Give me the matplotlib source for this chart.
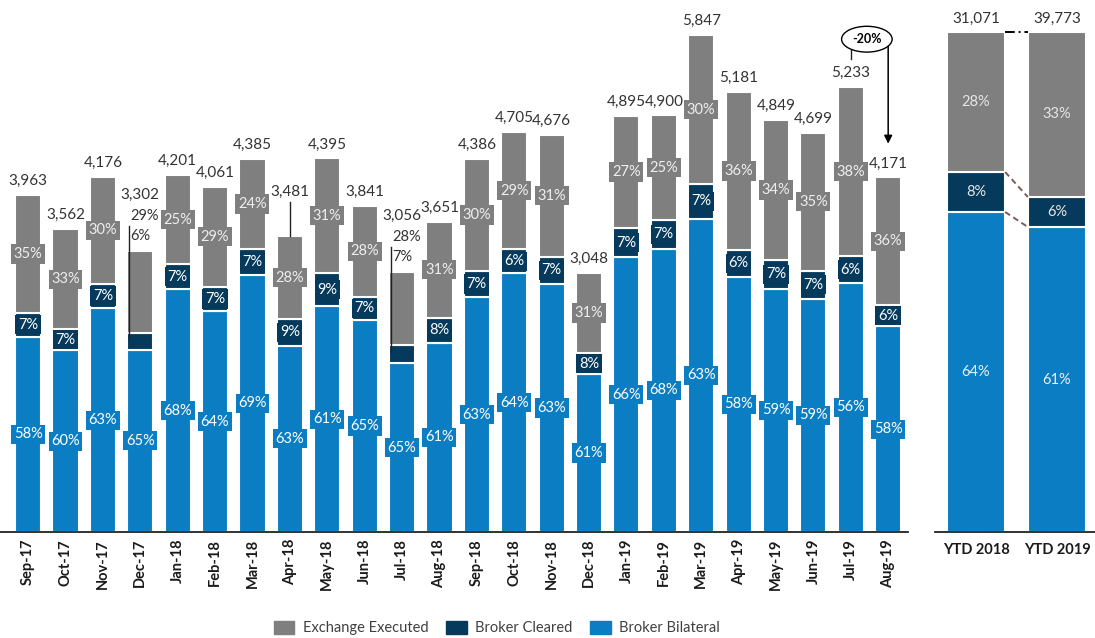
import numpy as np
import matplotlib.pyplot as plt
from matplotlib.patches import Patch

# data
months = ['Sep-17', 'Oct-17', 'Nov-17', 'Dec-17', 'Jan-18', 'Feb-18', 'Mar-18', 'Apr-18',
          'May-18', 'Jun-18', 'Jul-18', 'Aug-18', 'Sep-18', 'Oct-18', 'Nov-18', 'Dec-18',
          'Jan-19', 'Feb-19', 'Mar-19', 'Apr-19', 'May-19', 'Jun-19', 'Jul-19', 'Aug-19']
totals = [3963, 3562, 4176, 3302, 4201, 4061, 4385, 3481, 4395, 3841, 3056, 3651,
          4386, 4705, 4676, 3048, 4895, 4900, 5847, 5181, 4849, 4699, 5233, 4171]
bilateral_pct = [58, 60, 63, 65, 68, 64, 69, 63, 61, 65, 65, 61, 63, 64, 63, 61, 66, 68, 63, 58, 59, 59, 56, 58]
cleared_pct = [7, 7, 7, 6, 7, 7, 7, 9, 9, 7, 7, 8, 7, 6, 7, 8, 7, 7, 7, 6, 7, 7, 6, 6]
exchange_pct = [35, 33, 30, 29, 25, 29, 24, 28, 31, 28, 28, 31, 30, 29, 31, 31, 27, 25, 30, 36, 34, 35, 38, 36]

ytd_labels = ['YTD 2018', 'YTD 2019']
ytd_totals = [31071, 39773]
ytd_bilateral = [64, 61]
ytd_cleared = [8, 6]
ytd_exchange = [28, 33]

GRAY = '#7F7F7F'
NAVY = '#063A5C'
BLUE = '#0B7EC3'

plt.rcParams['font.family'] = ['Lato', 'DejaVu Sans']

W, H = 1095, 638
fig = plt.figure(figsize=(W / 100, H / 100), dpi=100)

base_y = 532
top_y = 10
px_per_unit = 0.085
ax = fig.add_axes([0, (H - base_y) / H, 908 / W, (base_y - top_y) / H])
ax2 = fig.add_axes([935 / W, (H - base_y) / H, 160 / W, (base_y - top_y) / H])

x = np.arange(len(months))
tot = np.array(totals, dtype=float)
b = np.array(bilateral_pct, dtype=float)
c = np.array(cleared_pct, dtype=float)
e = np.array(exchange_pct, dtype=float)
s = b + c + e
hb = tot * b / s
hc = tot * c / s
he = tot * e / s

bw = 0.7
kw = dict(width=bw, edgecolor='white', linewidth=1.5)
ax.bar(x, hb, color=BLUE, **kw)
ax.bar(x, hc, bottom=hb, color=NAVY, **kw)
ax.bar(x, he, bottom=hb + hc, color=GRAY, **kw)

ax.set_xlim(-0.75, 23.53)
ax.set_ylim(0, (base_y - top_y) / px_per_unit)

def pct_label(a, xx, yy, val, fc, tc):
    a.text(xx, yy, f'{val:.0f}%', ha='center', va='center', fontsize=10.5, color=tc,
           bbox=dict(boxstyle='square,pad=0.18', fc=fc, ec='none'))

px = lambda p: p / px_per_unit  # pixels -> data units on main axis
special = {3: 'Dec', 10: 'Jul'}
for i in x:
    pct_label(ax, i, hb[i] / 2, b[i], BLUE, 'white')
    if i in special:
        # labels moved above bar with leader line
        lx = i - bw / 2 + 0.05
        ax.plot([lx, lx], [hb[i] + hc[i] * 0.6, tot[i] + px(25)], color='#222222', lw=1, zorder=4)
        ax.text(lx + 0.03, tot[i] + px(35), f'{e[i]:.0f}%', ha='left', va='center', fontsize=10.5, color='#333333')
        ax.text(lx + 0.03, tot[i] + px(15), f'{c[i]:.0f}%', ha='left', va='center', fontsize=10.5, color='#333333')
        ax.text(i, tot[i] + px(56), f'{totals[i]:,}', ha='center', va='center', fontsize=11, color='#333333')
        continue
    pct_label(ax, i, hb[i] + hc[i] / 2, c[i], NAVY, 'white')
    pct_label(ax, i, hb[i] + hc[i] + he[i] / 2, e[i], GRAY, '#EEEEEE')
    if i == 7:
        ax.plot([i, i], [tot[i], tot[i] + px(34)], color='#222222', lw=1)
        ax.text(i, tot[i] + px(44), f'{totals[i]:,}', ha='center', va='center', fontsize=11, color='#333333')
    else:
        ax.text(i, tot[i] + px(14), f'{totals[i]:,}', ha='center', va='center', fontsize=11, color='#333333')

# -20% callout
j, k = 22, 23
cy = tot[j] + px(48)
ax.plot([j, j], [tot[j] + px(28), tot[j] + px(40)], color='#222222', lw=1)
ax.annotate('', xy=(k, tot[k] + px(31)), xytext=(k, cy),
            arrowprops=dict(arrowstyle='-|>', color='black', lw=1.1, mutation_scale=12))
ax.text((j + k) / 2 - 0.07, cy, '-20%', ha='center', va='center', fontsize=9, fontweight='bold',
        color='black', bbox=dict(boxstyle='ellipse,pad=0.25', fc='white', ec='black', lw=1))

ax.set_xticks(x)
ax.set_xticklabels(months, rotation=90, fontsize=10.5, fontweight='bold', color='#1A1A1A')
ax.tick_params(axis='x', length=0, pad=5)
ax.set_yticks([])
for sp in ['top', 'right', 'left']:
    ax.spines[sp].set_visible(False)
ax.spines['bottom'].set_color('#222222')
ax.spines['bottom'].set_linewidth(1.3)

# YTD panel
xy = np.arange(len(ytd_labels))
yb = np.array(ytd_bilateral, dtype=float)
yc = np.array(ytd_cleared, dtype=float)
ye = np.array(ytd_exchange, dtype=float)
ybw = 0.72
kw2 = dict(width=ybw, edgecolor='white', linewidth=1.5)
ax2.bar(xy, yb, color=BLUE, **kw2)
ax2.bar(xy, yc, bottom=yb, color=NAVY, **kw2)
ax2.bar(xy, ye, bottom=yb + yc, color=GRAY, **kw2)
ax2.set_xlim(-0.506, 1.469)
ax2.set_ylim(0, 104.4)
for i in xy:
    ax2.text(i, yb[i] / 2, f'{yb[i]:.0f}%', ha='center', va='center', fontsize=10.5, color='#EEEEEE')
    ax2.text(i, yb[i] + yc[i] / 2, f'{yc[i]:.0f}%', ha='center', va='center', fontsize=10.5, color='#E6E6E6')
    ax2.text(i, yb[i] + yc[i] + ye[i] / 2, f'{ye[i]:.0f}%', ha='center', va='center', fontsize=10.5, color='#E6E6E6')
    ax2.text(i, 100 + 2.6, f'{ytd_totals[i]:,}', ha='center', va='center', fontsize=11, color='#333333')
x0, x1 = ybw / 2, 1 - ybw / 2
ax2.plot([x0, x1], [yb[0], yb[1]], color='#7A5A55', lw=1.4, ls=(0, (3, 2)))
ax2.plot([x0, x1], [yb[0] + yc[0], yb[1] + yc[1]], color='#7A5A55', lw=1.4, ls=(0, (3, 2)))
ax2.plot([x0, x1], [100, 100], color='black', lw=1.4, ls=(0, (5, 2, 1, 2)))

ax2.set_xticks(xy)
ax2.set_xticklabels(ytd_labels, fontsize=10.5, fontweight='bold', color='#1A1A1A')
ax2.tick_params(axis='x', length=0, pad=8)
ax2.set_yticks([])
for sp in ['top', 'right', 'left']:
    ax2.spines[sp].set_visible(False)
ax2.spines['bottom'].set_color('#222222')
ax2.spines['bottom'].set_linewidth(1.3)

handles = [Patch(color=GRAY, label='Exchange Executed'),
           Patch(color=NAVY, label='Broker Cleared'),
           Patch(color=BLUE, label='Broker Bilateral')]
leg = fig.legend(handles=handles, loc='center', bbox_to_anchor=(497 / W, 1 - 628 / H), ncol=3,
                 frameon=False, fontsize=10.5, handlelength=1.4, handleheight=1.0, columnspacing=1.2,
                 handletextpad=0.6)
for t in leg.get_texts():
    t.set_color('#404040')

fig.savefig('out.png', dpi=100)
